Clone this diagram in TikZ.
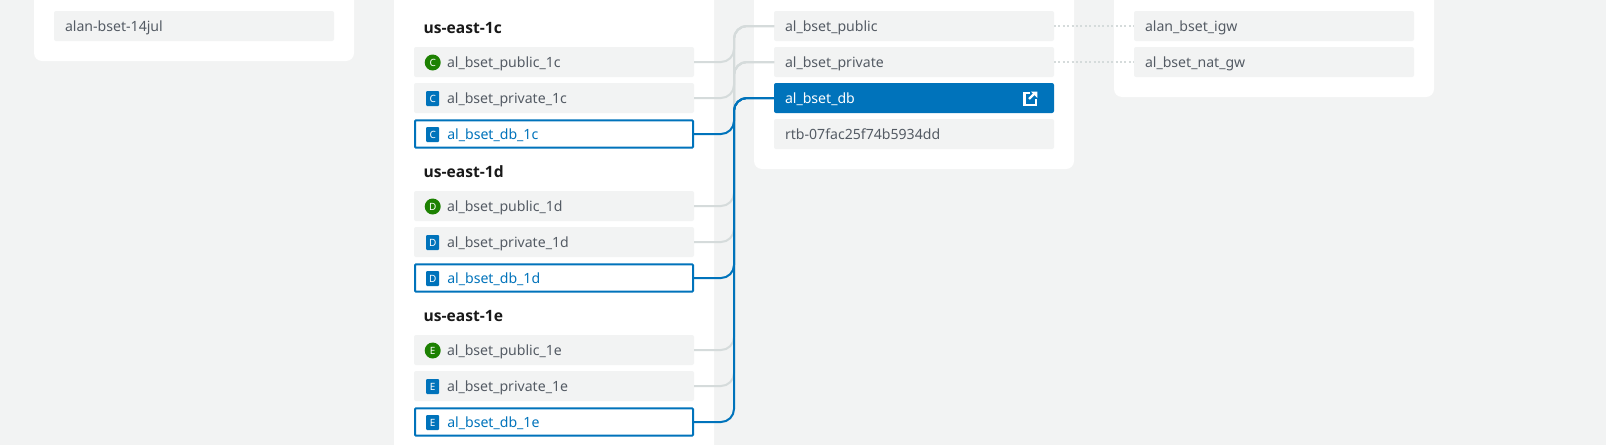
\documentclass[tikz,border=0pt]{standalone}
\usepackage{fontspec}
\setmainfont{Noto Sans}
\newfontfamily\headfont{Open Sans}
\definecolor{pagebg}{HTML}{F2F3F3}
\definecolor{txt}{HTML}{545B64}
\definecolor{awsblue}{HTML}{0073BB}
\definecolor{awsgreen}{HTML}{1D8102}
\definecolor{linkgray}{HTML}{D5DBDB}
\tikzset{
  x=1pt,y=-1pt,
  card/.style={fill=white,rounded corners=8pt},
  entry/.style={anchor=north west,fill=pagebg,rounded corners=2pt,minimum width=280pt,minimum height=30pt,inner sep=0pt,outer sep=0pt,text width=258pt,align=left,text height=12pt,text depth=1pt,text=txt,font=\fontsize{14.1pt}{16pt}\selectfont},
  picked/.style={anchor=north west,draw=awsblue,line width=2pt,fill=white,rounded corners=1pt,minimum width=278pt,minimum height=27.4pt,inner sep=0pt,outer sep=1pt,text width=236pt,align=left,text height=12pt,text depth=1pt,text=awsblue,font=\fontsize{14.1pt}{16pt}\selectfont},
  active/.style={entry,fill=awsblue,text=white},
  heading/.style={anchor=base west,inner sep=0pt,font=\headfont\fontsize{15.6pt}{18pt}\selectfont\bfseries,text=black!90},
  azcirc/.style={circle,fill=awsgreen,minimum size=16pt,inner sep=0pt,text=white,font=\fontsize{10pt}{11pt}\selectfont},
  azsq/.style={fill=awsblue,rounded corners=1pt,minimum width=13pt,minimum height=15pt,inner sep=0pt,text=white,font=\fontsize{10pt}{11pt}\selectfont},
  graylink/.style={draw=linkgray,line width=2pt,rounded corners=13pt,yshift=-0.6pt},
  bluelink/.style={draw=awsblue,line width=2pt,rounded corners=13pt,yshift=-0.6pt},
  dotlink/.style={draw=linkgray,line width=2pt,dash pattern=on 2pt off 2.4pt,yshift=-0.6pt},
}
\begin{document}
\begin{tikzpicture}
\useasboundingbox (0,0) rectangle (1606,445);
\clip (0,0) rectangle (1606,445);
\fill[pagebg] (0,0) rectangle (1606,445);
% cards
\fill[card] (34,-20) rectangle (354,61);
\fill[card] (394,-20) rectangle (714,465);
\fill[card] (754,-20) rectangle (1074,169);
\fill[card] (1114,-20) rectangle (1434,97);
% trunk
\coordinate (trunk) at (734,0);
% left card
\node[entry] (vpc) at (54,11) {alan-bset-14jul};
% route tables
\node[entry] (rtpub) at (774,11) {al\_bset\_public};
\node[entry] (rtpriv) at (774,47) {al\_bset\_private};
\node[active] (rtdb) at (774,83) {al\_bset\_db};
\node[entry] (rtid) at (774,119) {rtb-07fac25f74b5934dd};
% gateways
\node[entry] (igw) at (1134,11) {alan\_bset\_igw};
\node[entry] (nat) at (1134,47) {al\_bset\_nat\_gw};
% subnets
\node[heading] (hc) at (423.5,33) {us-east-1c};
\node[heading] (hd) at (423.5,177) {us-east-1d};
\node[heading] (he) at (423.5,321) {us-east-1e};
\foreach \z/\Z/\y in {c/C/47,d/D/191,e/E/335}{
  \pgfmathsetmacro{\yb}{\y+36}
  \pgfmathsetmacro{\yc}{\y+72.3}
  \node[entry] (pub\z) at (414,\y) {\hspace*{22pt}al\_bset\_public\_1\z};
  \node[entry] (priv\z) at (414,\yb) {\hspace*{22pt}al\_bset\_private\_1\z};
  \node[picked] (db\z) at (414,\yc) {\hspace*{11.3pt}al\_bset\_db\_1\z};
  \node[azcirc] (ipub\z) at (432.7,\y+15.5) {\Z};
  \node[azsq] (ipriv\z) at (432.7,\yb+15.5) {\Z};
  \node[azsq] (idb\z) at (432.7,\yc+15.2) {\Z};
}
% gray connectors
\foreach \z in {c,d,e}{
  \draw[graylink] (pub\z.east) -| (trunk |- rtpub.west) -- (rtpub.west);
  \draw[graylink] (priv\z.east) -| (trunk |- rtpriv.west) -- (rtpriv.west);
}
% dotted connectors
\draw[dotlink] (rtpub.east) -- (igw.west);
\draw[dotlink] (rtpriv.east) -- (nat.west);
% blue connectors
\foreach \z in {c,d,e}{
  \draw[bluelink] (db\z.east) -| (trunk |- rtdb.west) -- (rtdb.west);
}
% external link icon
\draw[white,line width=2.2pt] (1030,92.8) -- (1024.4,92.8) -- (1024.4,104.6) -- (1036.2,104.6) -- (1036.2,99);
\draw[white,line width=2.4pt] (1029,99) -- (1035,93);
\fill[white] (1031,91.7) -- (1037.3,91.7) -- (1037.3,98) -- cycle;
\end{tikzpicture}
\end{document}
